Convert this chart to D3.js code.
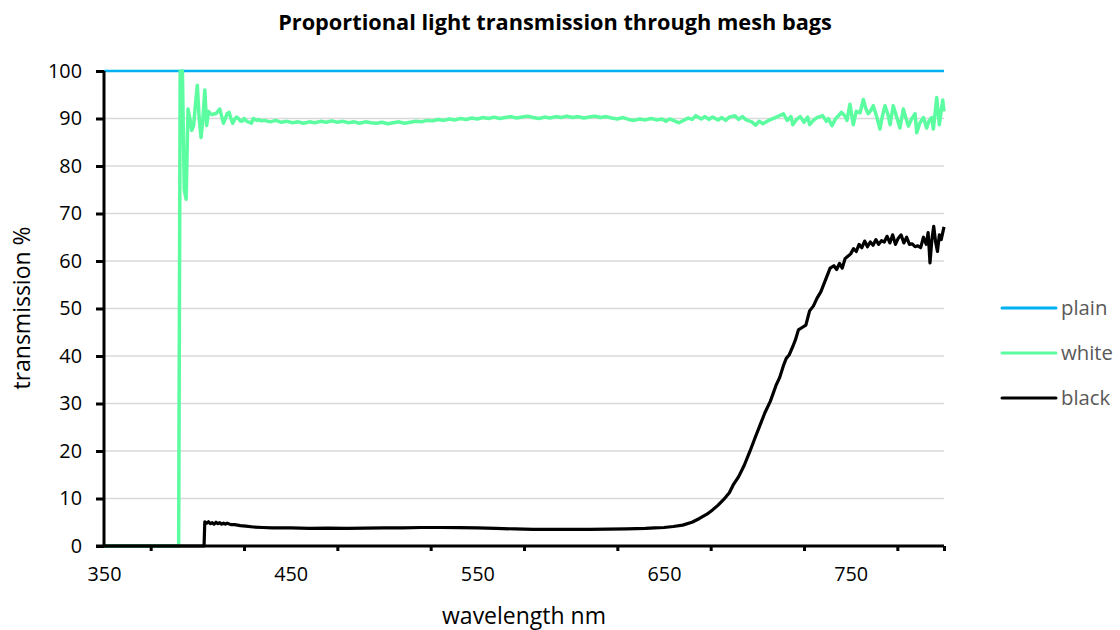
<!DOCTYPE html>
<html><head><meta charset="utf-8">
<script src="https://cdn.jsdelivr.net/npm/d3@7"></script>
<style>body{margin:0;background:#fff}svg{display:block}</style>
</head><body><svg id="c" width="1120" height="630"></svg>
<script>
const title = "Proportional light transmission through mesh bags";
const xTitle = "wavelength nm";
const yTitle = "transmission %";
const seriesNames = ["plain", "white", "black"];
const xLabelTicks = [350, 450, 550, 650, 750];
const xMarkTicks = [375, 425, 475, 525, 575, 625, 675, 725, 775, 800];
const yTicks = [0, 10, 20, 30, 40, 50, 60, 70, 80, 90, 100];

const plainWl = [350, 800];
const plainT = [100, 100];

const whiteWl = [350, 390, 390.8, 391, 392, 393, 394, 395, 396, 397, 398, 399, 400, 401, 402, 403, 404, 405, 406, 407, 408, 409, 410, 411, 412, 413, 414, 415, 416, 417, 418, 419, 420, 421, 422, 423, 424, 425, 426, 427, 428, 429, 430, 431, 432, 433, 434,
  436, 439, 442, 445, 448, 451, 454, 457, 460, 463, 466, 469, 472, 475, 478, 481, 484, 487, 490, 493, 496, 499, 502, 505, 508, 511, 514, 517, 520, 523, 526, 529, 532, 535, 538, 541, 544, 547, 550, 553, 556, 559, 562, 565, 568, 571, 574, 577, 580, 583, 586, 589, 592, 595, 598, 601, 604, 607, 610, 613, 616, 619, 622, 625, 628, 631, 634, 637, 640, 643, 646,
  649, 651, 653, 655, 658, 661, 663, 665, 667, 670, 672, 674, 676, 679, 681, 683, 685, 688, 690, 692, 694, 697, 699, 701, 703, 706, 709, 712, 714, 716, 718, 719, 721, 723, 725, 727, 728, 730, 732, 735, 737, 738, 740, 742, 744, 745, 747, 748, 749.6, 751.4, 753, 755, 756.8, 758, 759.4, 761, 762.1, 764, 765.7, 767, 768.4, 770, 771.1, 772.8, 774.5, 776.4, 778.2, 779.5, 780.9, 782.5, 784.5, 785.4, 787, 789, 790.7, 792, 793.4, 794.3, 796.1, 797.5, 799.3, 800];
const whiteT = [0, 0, 100, 100, 100, 75, 73, 92, 90, 87.5, 88.5, 93, 97, 90, 86, 90, 96, 88.5, 91.5, 91, 90.8, 91, 91, 91.5, 92, 90.5, 89, 90, 91, 91.3, 90, 89, 89.8, 90.3, 90, 89.5, 89.4, 90, 89.6, 89.3, 89.2, 89, 90, 89.8, 89.6, 89.8, 89.5,
  89.6, 89.3, 89.6, 89.2, 89.4, 89.1, 89.3, 89.0, 89.3, 89.1, 89.4, 89.2, 89.5, 89.2, 89.4, 89.1, 89.3, 89.0, 89.3, 89.1, 89.0, 89.2, 88.9, 89.1, 89.3, 89.0, 89.2, 89.4, 89.3, 89.6, 89.5, 89.8, 89.6, 89.9, 89.7, 90.0, 89.8, 90.1, 89.9, 90.2, 90.0, 90.3, 90.0, 90.2, 90.4, 90.1, 90.3, 90.5, 90.2, 90.0, 90.3, 90.1, 90.4, 90.2, 90.5, 90.2, 90.4, 90.1, 90.3, 90.5, 90.2, 90.4, 90.1, 89.9, 90.2, 89.8, 89.6, 89.9, 89.7, 90.0, 89.7,
  89.9, 89.4, 89.9, 89.6, 89.1, 89.7, 90.1, 89.8, 90.6, 89.9, 90.4, 89.8, 90.3, 89.7, 90.2, 89.6, 90.3, 90.6, 89.8, 90.4, 89.7, 89.3, 88.6, 89.4, 88.9, 89.6, 90.1, 90.6, 91.0, 89.6, 90.4, 88.7, 89.8, 90.4, 89.2, 90.3, 88.7, 89.6, 90.2, 90.6, 89.4, 90.0, 88.5, 90.0, 90.8, 91.3, 90.5, 89.6, 93, 88.7, 91.5, 91.2, 94, 92.2, 91, 91.8, 92.7, 90.3, 87.8, 90.5, 92.7, 90.8, 88.7, 92.7, 90.5, 88, 92, 90.2, 88.4, 89.8, 91, 87, 89.0, 90.2, 88, 89.5, 90.2, 87.8, 94.4, 88.7, 93.9, 91.5];

const blackWl = [350, 403.6, 404, 405, 406, 407, 408, 409, 410, 411, 412, 413, 414, 415, 416, 418, 420, 423, 426, 430, 435, 440, 450, 460, 470, 480, 490, 500, 510, 520, 530, 540, 550, 560, 570, 580, 590, 600, 610, 620, 630, 640, 645, 650, 655, 660, 665, 669, 673, 676, 679, 682, 685, 687, 690, 693, 696, 699, 701.5, 704, 707, 710, 712, 714, 715.5, 717, 719, 720.5, 722, 724, 726, 728, 730, 732, 734, 736, 737, 739, 741, 742.5, 744, 745.5, 747, 748.5, 750, 751.5, 753, 754.5, 756, 757.5, 759, 760.5, 762, 763.5, 765, 766.5, 768, 769.5, 771, 772.5, 774, 775.5, 777, 778.5, 780, 781.5, 783, 784.5, 786, 787.5, 789, 790.5, 791.5, 792.5, 793.5, 794.5, 795.5, 796.5, 797.5, 798.5, 800];
const blackT = [0, 0, 5.1, 4.8, 5.1, 4.7, 4.9, 4.6, 5.0, 4.7, 4.9, 4.6, 4.8, 4.6, 4.8, 4.5, 4.5, 4.3, 4.2, 4.0, 3.9, 3.8, 3.8, 3.7, 3.75, 3.7, 3.75, 3.8, 3.8, 3.9, 3.9, 3.85, 3.8, 3.7, 3.6, 3.5, 3.5, 3.5, 3.5, 3.55, 3.6, 3.7, 3.8, 3.9, 4.1, 4.4, 5.0, 5.8, 6.7, 7.6, 8.6, 9.8, 11.2, 12.8, 14.6, 17.0, 19.9, 23.0, 25.5, 28, 30.5, 33.8, 35.5, 38.0, 39.5, 40.2, 42.0, 43.5, 45.5, 46.0, 46.5, 49.5, 50.5, 52.2, 53.5, 55.5, 56.5, 58.5, 59.0, 58.2, 59.5, 58.5, 60.5, 61.0, 61.5, 62.6, 62.0, 63.5, 62.8, 64.2, 63.0, 64.0, 63.3, 64.5, 63.5, 64.3, 64.0, 65.2, 63.8, 65.5, 63.5, 64.8, 65.5, 63.8, 65.0, 63.5, 63.6, 63.0, 63.2, 62.8, 65.0, 63.5, 66.0, 59.6, 64.5, 67.3, 64.0, 62.0, 65.5, 64.5, 67.2];

const colors = {plain: "#00b0f0", white: "#5cfca0", black: "#000000"};
const series = [
  {name: "plain", wl: plainWl, t: plainT, w: 2.5},
  {name: "white", wl: whiteWl, t: whiteT, w: 3.5},
  {name: "black", wl: blackWl, t: blackT, w: 3.2}
];

const svg = d3.select("#c");
const font = "'Open Sans', 'Liberation Sans', sans-serif";
const L = 104, R = 944, T = 71, B = 546;
const x = d3.scaleLinear().domain([350, 800]).range([L, R]);
const y = d3.scaleLinear().domain([0, 100]).range([B, T]);

// helper: pick font size so a reference string gets a target width
function fitSize(str, targetW, weight) {
  const t = svg.append("text").attr("font-family", font).attr("font-weight", weight || "normal")
    .attr("font-size", 20).text(str);
  const w = t.node().getComputedTextLength();
  t.remove();
  return 20 * targetW / w;
}
const tickSize = fitSize("350", 34);
const titleSize = fitSize(title, 554, "bold");
const axisTitleSize = fitSize(xTitle, 164);
const legendSize = fitSize("white", 52);

// gridlines
svg.append("g").selectAll("line").data(yTicks.filter(d => d > 0)).join("line")
  .attr("x1", L).attr("x2", R).attr("y1", d => y(d)).attr("y2", d => y(d))
  .attr("stroke", "#d9d9d9").attr("stroke-width", 1.5);

// series
const line = d3.line().x(d => x(d[0])).y(d => y(d[1]));
series.forEach(s => {
  svg.append("path").datum(s.wl.map((w, i) => [w, s.t[i]]))
    .attr("d", line).attr("fill", "none").attr("stroke", colors[s.name])
    .attr("stroke-width", s.w).attr("stroke-linejoin", "round");
});

// y axis
const yAxis = svg.append("g").attr("transform", `translate(${L},0)`)
  .call(d3.axisLeft(y).tickValues(yTicks).tickSize(8).tickPadding(14));
yAxis.select(".domain").attr("stroke", "#000").attr("stroke-width", 3).attr("d", `M0,${B+1}V${T}`);
yAxis.selectAll(".tick line").attr("stroke", "#000").attr("stroke-width", 3);
yAxis.selectAll("text").attr("font-family", font).attr("font-size", tickSize).attr("fill", "#000");

// x axis
const xAxisMarks = svg.append("g").attr("transform", `translate(0,${B})`)
  .call(d3.axisBottom(x).tickValues(xMarkTicks).tickSize(5).tickFormat(""));
xAxisMarks.select(".domain").attr("stroke", "#000").attr("stroke-width", 3).attr("d", `M${L-8},0H${R}`);
xAxisMarks.selectAll(".tick line").attr("stroke", "#000").attr("stroke-width", 3);
const xAxisLabels = svg.append("g").attr("transform", `translate(0,${B})`)
  .call(d3.axisBottom(x).tickValues(xLabelTicks).tickSize(0).tickPadding(21));
xAxisLabels.select(".domain").remove();
xAxisLabels.selectAll("text").attr("font-family", font).attr("font-size", tickSize).attr("fill", "#000");

// titles
svg.append("text").attr("x", 555).attr("y", 30).attr("text-anchor", "middle")
  .attr("font-family", font).attr("font-weight", "bold").attr("font-size", titleSize).text(title);
svg.append("text").attr("x", 524).attr("y", 624).attr("text-anchor", "middle")
  .attr("font-family", font).attr("font-size", axisTitleSize).text(xTitle);
svg.append("text").attr("transform", "translate(30,308) rotate(-90)").attr("text-anchor", "middle")
  .attr("font-family", font).attr("font-size", axisTitleSize).text(yTitle);

// legend
const lg = svg.append("g").selectAll("g").data(seriesNames).join("g")
  .attr("transform", (d, i) => `translate(1002,${308 + i * 45})`);
lg.append("line").attr("x1", 0).attr("x2", 54).attr("stroke", d => colors[d])
  .attr("stroke-width", 3).attr("stroke-linecap", "round");
lg.append("text").attr("x", 59).attr("y", 7).attr("font-family", font)
  .attr("font-size", legendSize).attr("fill", "#595959").text(d => d);
</script></body></html>
